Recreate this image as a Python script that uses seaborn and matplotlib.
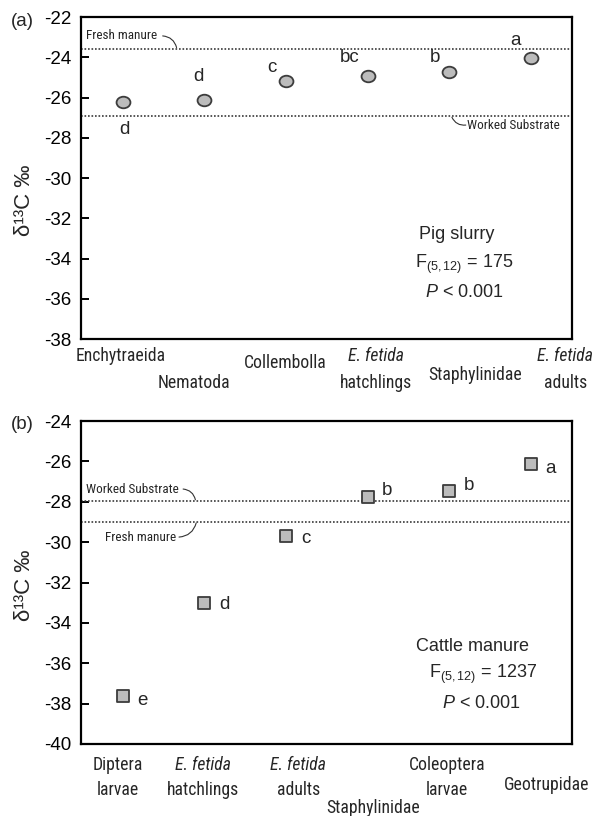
import numpy as np
import pandas as pd
import matplotlib
matplotlib.use("Agg")
import matplotlib.pyplot as plt
import seaborn as sns
from matplotlib import font_manager
from matplotlib.path import Path
from matplotlib.transforms import Affine2D

# ---------------- data ----------------
cats_a = ["Enchytraeida", "Nematoda", "Collembolla", "E. fetida hatchlings",
          "Staphylinidae", "E. fetida adults"]
vals_a = [-26.2, -26.1, -25.2, -24.95, -24.75, -24.05]
letters_a = ["d", "d", "c", "bc", "b", "a"]
fresh_a = -23.6
worked_a = -26.9
yticks_a = [-22, -24, -26, -28, -30, -32, -34, -36, -38]

cats_b = ["Diptera larvae", "E. fetida hatchlings", "E. fetida adults",
          "Staphylinidae", "Coleoptera larvae", "Geotrupidae"]
vals_b = [-37.6, -33.0, -29.7, -27.75, -27.45, -26.15]
letters_b = ["e", "d", "c", "b", "b", "a"]
worked_b = -27.95
fresh_b = -29.0
yticks_b = [-24, -26, -28, -30, -32, -34, -36, -38, -40]

stats_a = ["Pig slurry", "175", "0.001"]
stats_b = ["Cattle manure", "1237", "0.001"]

# x-label text lines: (first line, second line, first line italic)
xlab_a = [("Enchytraeida", None, False), ("Nematoda", None, False),
          ("Collembolla", None, False), ("E. fetida", "hatchlings", True),
          ("Staphylinidae", None, False), ("E. fetida", "adults", True)]
xlab_b = [("Diptera", "larvae", False), ("E. fetida", "hatchlings", True),
          ("E. fetida", "adults", True), ("Staphylinidae", None, False),
          ("Coleoptera", "larvae", False), ("Geotrupidae", None, False)]

# ---------------- layout ----------------
xlab_pos_a = [(-0.02, 17, None), (0.87, 44, None), (1.99, 24, None),
              (3.1, 17, 44), (4.31, 36, None), (5.42, 17, 44)]
xlab_pos_b = [(-0.06, 21, 46), (0.98, 21, 46), (2.15, 21, 46),
              (3.06, 64, None), (3.97, 21, 46), (5.19, 41, None)]
let_pos_a = [(0.016, -27.57), (0.93, -24.95), (1.83, -24.5),
             (2.78, -24.0), (3.82, -24.0), (4.81, -23.18)]
let_pos_b = [(0.24, -37.83), (1.24, -33.09), (2.24, -29.83),
             (3.24, -27.46), (4.24, -27.21), (5.24, -26.37)]

sns.set_style("white")
plt.rcParams["font.family"] = ["Liberation Sans", "DejaVu Sans"]
plt.rcParams["mathtext.fontset"] = "custom"
plt.rcParams["mathtext.rm"] = "Liberation Sans"
plt.rcParams["mathtext.it"] = "Liberation Sans:italic"

names = {f.name for f in font_manager.fontManager.ttflist}
narrow = "Roboto Condensed" in names
nfam = ["Roboto Condensed", "Liberation Sans", "DejaVu Sans"] if narrow else ["Liberation Sans", "DejaVu Sans"]
lab_size = 12.7 if narrow else 10.5
ann_size = 9.5 if narrow else 8.3

W, H = 599, 816
fig = plt.figure(figsize=(W / 100, H / 100), dpi=100)
fig.patch.set_facecolor("white")

ax_a = fig.add_axes([81 / W, 1 - 339 / H, 491 / W, 322 / H])
ax_b = fig.add_axes([81 / W, 1 - 744 / H, 491 / W, 323 / H])

fill = "#bcbcbc"
edge = "#3c3c3c"
ell = Affine2D().scale(1.2, 1.0).transform_path(Path.unit_circle())

df_a = pd.DataFrame({"x": np.arange(len(cats_a)), "cat": cats_a, "val": vals_a})
df_b = pd.DataFrame({"x": np.arange(len(cats_b)), "cat": cats_b, "val": vals_b})

sns.scatterplot(data=df_a, x="x", y="val", ax=ax_a, marker=ell, s=100,
                color=fill, edgecolor=edge, linewidth=1.3, zorder=5, legend=False)
sns.scatterplot(data=df_b, x="x", y="val", ax=ax_b, marker="s", s=80,
                color=fill, edgecolor=edge, linewidth=1.3, zorder=5, legend=False)

for ax, yt in [(ax_a, yticks_a), (ax_b, yticks_b)]:
    ax.set_xlim(-0.51, 5.5)
    ax.set_ylim(min(yt), max(yt))
    ax.set_yticks(yt)
    ax.set_yticklabels([str(v) for v in yt])
    ax.set_xticks([])
    ax.set_xlabel("")
    ax.tick_params(axis="y", direction="in", length=6, width=1.4, pad=7,
                   labelsize=13.5, colors="black", left=True)
    for sp in ax.spines.values():
        sp.set_visible(True)
        sp.set_color("black")
        sp.set_linewidth(1.6)
    ax.set_ylabel("δ¹³C ‰", fontsize=16)
    ax.grid(False)

ax_a.yaxis.set_label_coords(-0.094, 0.43)
ax_b.yaxis.set_label_coords(-0.094, 0.49)

# reference lines
dot = (0, (1, 1.1))
lc = "#3a3a3a"
ax_a.axhline(fresh_a, ls=dot, lw=1.2, color=lc, zorder=2)
ax_a.axhline(worked_a, ls=dot, lw=1.2, color=lc, zorder=2)
ax_b.axhline(worked_b, ls=dot, lw=1.2, color=lc, zorder=2)
ax_b.axhline(fresh_b, ls=dot, lw=1.2, color=lc, zorder=2)

def leader(ax, p0, p1, rad):
    ax.annotate("", xy=p1, xytext=p0,
                arrowprops=dict(arrowstyle="-", connectionstyle=f"arc3,rad={rad}",
                                lw=0.8, color="#333333", shrinkA=0, shrinkB=0))

ax_a.text(-0.45, -22.94, "Fresh manure", family=nfam, fontsize=ann_size, va="center", ha="left")
leader(ax_a, (0.49, -22.94), (0.66, -23.52), -0.35)
ax_a.text(4.22, -27.37, "Worked Substrate", family=nfam, fontsize=ann_size, va="center", ha="left")
leader(ax_a, (4.03, -26.98), (4.2, -27.37), 0.35)

ax_b.text(-0.45, -27.37, "Worked Substrate", family=nfam, fontsize=ann_size, va="center", ha="left")
leader(ax_b, (0.74, -27.37), (0.89, -27.9), -0.35)
ax_b.text(-0.22, -29.75, "Fresh manure", family=nfam, fontsize=ann_size, va="center", ha="left")
leader(ax_b, (0.69, -29.75), (0.9, -29.05), 0.35)

# significance letters
for (lx, ly), t in zip(let_pos_a, letters_a):
    ax_a.text(lx, ly, t, fontsize=13.5, ha="center", va="center", zorder=6)
for (lx, ly), t in zip(let_pos_b, letters_b):
    ax_b.text(lx, ly, t, fontsize=13.5, ha="center", va="center", zorder=6)

# category labels
def draw_xlabels(ax, labs, pos, hpx):
    tr = ax.get_xaxis_transform()
    for (l1, l2, it), (x, o1, o2) in zip(labs, pos):
        ax.text(x, -o1 / hpx, l1, transform=tr, family=nfam, fontsize=lab_size,
                style="italic" if it else "normal", ha="center", va="center", clip_on=False)
        if l2 is not None:
            ax.text(x, -o2 / hpx, l2, transform=tr, family=nfam, fontsize=lab_size,
                    ha="center", va="center", clip_on=False)

draw_xlabels(ax_a, xlab_a, xlab_pos_a, 322)
draw_xlabels(ax_b, xlab_b, xlab_pos_b, 323)

# statistics
ax_a.text(0.766, 0.326, stats_a[0], transform=ax_a.transAxes, fontsize=13, ha="center", va="center")
ax_a.text(0.78, 0.233, r"F$_{(5,12)}$ = " + stats_a[1], transform=ax_a.transAxes, fontsize=13, ha="center", va="center")
ax_a.text(0.78, 0.143, r"$P$ < " + stats_a[2], transform=ax_a.transAxes, fontsize=13, ha="center", va="center")

ax_b.text(0.798, 0.303, stats_b[0], transform=ax_b.transAxes, fontsize=13, ha="center", va="center")
ax_b.text(0.818, 0.214, r"F$_{(5,12)}$ = " + stats_b[1], transform=ax_b.transAxes, fontsize=13, ha="center", va="center")
ax_b.text(0.815, 0.124, r"$P$ < " + stats_b[2], transform=ax_b.transAxes, fontsize=13, ha="center", va="center")

# panel labels
fig.text(11 / W, 1 - 21 / H, "(a)", fontsize=13.5, ha="left", va="center")
fig.text(11 / W, 1 - 424 / H, "(b)", fontsize=13.5, ha="left", va="center")

fig.savefig("out.png", dpi=100, facecolor="white")
